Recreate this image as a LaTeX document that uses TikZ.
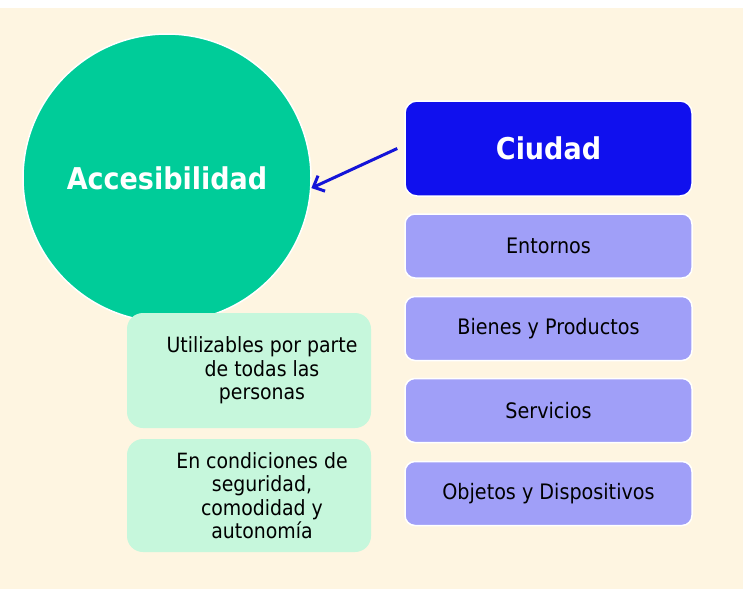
\documentclass[tikz,border=0pt]{standalone}
\usepackage{fontspec}
\setmainfont{DejaVu Sans Condensed}
\usetikzlibrary{arrows.meta}
\definecolor{cream}{HTML}{FEF5E1}
\definecolor{accgreen}{HTML}{00CC99}
\definecolor{cblue}{HTML}{1010EE}
\definecolor{lpurple}{HTML}{A09FF8}
\definecolor{lgreen}{HTML}{C6F7DC}
\definecolor{arrowblue}{HTML}{1414D8}
\tikzset{
  x=1pt, y=-1pt,
  bigcircle/.style={circle, fill=accgreen, draw=white, line width=1.5pt, minimum size=288pt, inner sep=0pt,
    text=white, font=\fontsize{30}{36}\selectfont\bfseries},
  citybox/.style={rectangle, rounded corners=12pt, fill=cblue, draw=white, line width=1.5pt,
    minimum width=287pt, minimum height=95pt, inner sep=0pt, text=white, font=\fontsize{30}{36}\selectfont\bfseries},
  itembox/.style={rectangle, rounded corners=10pt, fill=lpurple, draw=white, line width=1.5pt,
    minimum width=287pt, minimum height=64pt, inner sep=0pt, text=black, font=\fontsize{21.3}{24}\selectfont},
  greenbox/.style={rectangle, rounded corners=16pt, fill=lgreen, draw=none,
    minimum width=244pt, inner sep=0pt},
  gtext/.style={align=center, text=black, inner sep=0pt, font=\fontsize{21}{23.5}\selectfont},
  connarrow/.style={draw=arrowblue, line width=3pt, -{Straight Barb[length=9pt,width=17pt,line width=3pt]}},
}
\begin{document}
\begin{tikzpicture}
\useasboundingbox (0,0) rectangle (743,589);
\fill[white] (0,0) rectangle (743,8);
\fill[cream] (0,8) rectangle (743,589);

\node[bigcircle] (acc) at (167,178) {Accesibilidad};

\node[citybox] (ciudad) at (548.5,148.5) {Ciudad};
\node[itembox] (ent) at (548.5,246) {Entornos};
\node[itembox] (bien) at (548.5,328.5) {Bienes y Productos};
\node[itembox] (serv) at (548.5,410.5) {Servicios};
\node[itembox] (obj) at (548.5,493.5) {Objetos y Dispositivos};

\node[greenbox, minimum height=115pt] (util) at (249,370.5) {};
\node[gtext] (utilt) at ([xshift=13pt]util.center) {Utilizables por parte\\de todas las\\personas};
\node[greenbox, minimum height=113pt] (cond) at (249,495.5) {};
\node[gtext] (condt) at ([xshift=13pt]cond.center) {En condiciones de\\seguridad,\\comodidad y\\autonomía};

\draw[connarrow] ([xshift=-7pt]ciudad.west) -- (acc.-4);
\end{tikzpicture}
\end{document}
